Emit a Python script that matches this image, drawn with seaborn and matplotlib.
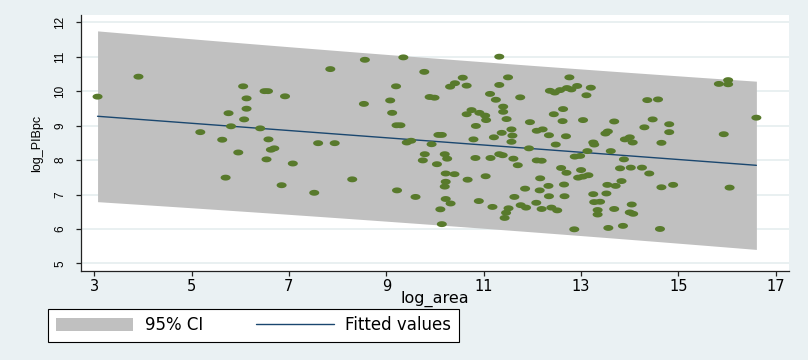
import numpy as np
import pandas as pd
import matplotlib
matplotlib.use("Agg")
import matplotlib.pyplot as plt
from matplotlib.path import Path
from matplotlib.markers import MarkerStyle
from matplotlib.patches import Patch
from matplotlib.lines import Line2D
import seaborn as sns

# Observations: log of area (x) and log of GDP per capita (y)
log_area = [
    3.07, 3.91, 5.18, 5.63, 5.70, 5.76, 5.81, 5.96, 6.06, 6.50,
    6.57, 6.13, 6.92, 6.13, 6.08, 6.41, 6.58, 6.63, 6.70, 6.54,
    7.08, 6.85, 7.52, 7.60, 7.94, 7.85, 8.56, 8.54, 8.30, 9.35,
    9.78, 9.20, 9.08, 9.12, 9.21, 9.29, 9.89, 9.99, 10.31, 10.41,
    10.57, 10.65, 10.65, 10.75, 10.07, 10.14, 9.42, 9.51, 9.93, 9.79,
    9.75, 10.20, 10.25, 10.04, 10.22, 10.40, 10.67, 10.22, 10.20, 9.22,
    9.60, 10.22, 10.32, 10.11, 10.14, 11.32, 11.50, 11.32, 11.13, 11.25,
    11.75, 10.91, 11.03, 11.05, 10.84, 11.40, 11.40, 11.47, 10.79, 11.21,
    11.37, 11.57, 11.59, 11.57, 11.95, 12.09, 12.21, 12.34, 12.48, 11.93,
    12.69, 10.83, 11.14, 11.32, 11.39, 11.61, 11.70, 12.09, 12.19, 12.59,
    12.70, 11.04, 12.16, 12.33, 12.15, 12.65, 11.85, 12.34, 12.66, 11.63,
    10.90, 12.08, 11.76, 11.87, 11.18, 11.51, 11.46, 11.43, 12.19, 12.39,
    12.51, 12.36, 12.46, 12.57, 12.71, 12.80, 12.92, 13.20, 13.11, 12.76,
    12.63, 12.44, 12.62, 13.04, 13.25, 13.13, 12.87, 12.98, 14.36, 14.58,
    13.68, 14.47, 14.30, 13.50, 13.55, 13.27, 13.90, 14.00, 14.06, 14.65,
    13.61, 13.88, 13.80, 14.02, 14.25, 14.40, 13.00, 12.94, 13.04, 13.15,
    13.54, 13.71, 13.83, 14.65, 13.25, 13.52, 13.27, 13.39, 13.34, 13.34,
    13.68, 14.04, 14.00, 14.07, 13.56, 13.86, 14.62, 12.86, 15.83, 16.02,
    16.02, 16.60, 14.81, 14.81, 15.93, 14.89, 16.05,
]
log_pibpc = [
    9.84, 10.42, 8.81, 8.59, 7.49, 9.36, 8.98, 8.22, 10.14, 10.00,
    10.00, 9.79, 9.85, 9.49, 9.18, 8.92, 8.60, 8.30, 8.34, 8.02,
    7.90, 7.27, 7.05, 8.49, 8.49, 10.64, 10.91, 9.63, 7.44, 10.98,
    10.56, 10.14, 9.73, 9.37, 9.01, 9.01, 9.83, 9.81, 10.13, 10.23,
    10.39, 10.16, 9.33, 9.45, 8.73, 8.73, 8.51, 8.56, 8.46, 8.17,
    7.99, 8.17, 8.04, 7.88, 7.61, 7.59, 7.43, 7.37, 7.23, 7.12,
    6.93, 6.87, 6.74, 6.57, 6.14, 11.00, 10.40, 10.18, 9.92, 9.75,
    9.82, 9.37, 9.29, 9.16, 8.99, 9.55, 9.40, 9.19, 8.60, 8.66,
    8.79, 8.89, 8.71, 8.53, 9.10, 8.85, 8.89, 8.72, 8.45, 8.34,
    8.69, 8.06, 8.06, 8.17, 8.14, 8.04, 7.85, 7.99, 7.98, 7.77,
    7.63, 7.53, 7.47, 7.25, 7.12, 7.29, 7.17, 6.95, 6.95, 6.93,
    6.81, 6.76, 6.69, 6.62, 6.64, 6.60, 6.47, 6.32, 6.58, 6.62,
    6.54, 10.01, 9.96, 10.03, 10.09, 10.05, 10.15, 10.10, 9.88, 10.40,
    9.48, 9.33, 9.13, 9.16, 8.51, 8.26, 8.10, 8.12, 9.74, 9.76,
    9.12, 9.18, 8.95, 8.77, 8.83, 8.45, 8.60, 8.66, 8.51, 8.50,
    8.26, 8.02, 7.76, 7.78, 7.78, 7.61, 7.71, 7.49, 7.52, 7.56,
    7.28, 7.25, 7.39, 7.21, 7.01, 7.03, 6.78, 6.79, 6.55, 6.42,
    6.58, 6.71, 6.48, 6.44, 6.03, 6.09, 6.00, 5.99, 10.21, 10.32,
    10.20, 9.23, 9.04, 8.81, 8.75, 7.28, 7.20,
]
x_ticks = [3, 5, 7, 9, 11, 13, 15, 17]
y_ticks = [5, 6, 7, 8, 9, 10, 11, 12]
legend_labels = ["95% CI", "Fitted values"]

sns.set_theme(style="white")
plt.rcParams["font.family"] = ["DejaVu Sans"]
plt.rcParams["text.color"] = "black"
plt.rcParams["axes.labelcolor"] = "black"
plt.rcParams["xtick.color"] = "black"
plt.rcParams["ytick.color"] = "black"

df = pd.DataFrame({"log_area": log_area, "log_PIBpc": log_pibpc})

# Linear fit with a 95% interval for individual forecasts
x = df["log_area"].to_numpy()
y = df["log_PIBpc"].to_numpy()
n = len(x)
slope, intercept = np.polyfit(x, y, 1)
resid = y - (intercept + slope * x)
s = np.sqrt(np.sum(resid ** 2) / (n - 2))
xbar = x.mean()
sxx = np.sum((x - xbar) ** 2)
z = 1.959963985
dof = n - 2
t_crit = z + (z ** 3 + z) / (4 * dof) + (5 * z ** 5 + 16 * z ** 3 + 3 * z) / (96 * dof ** 2)
grid = np.linspace(x.min(), x.max(), 100)
fit = intercept + slope * grid
half = t_crit * s * np.sqrt(1 + 1 / n + (grid - xbar) ** 2 / sxx)

BG = "#eaf1f3"
BAND = "#c0c0c0"
NAVY = "#1a476f"
GREEN = "#587a2c"

fig = plt.figure(figsize=(8.08, 3.6), dpi=100, facecolor=BG)
ax = fig.add_axes([81 / 808, 1 - 271 / 360, 708 / 808, 256 / 360])
ax.set_facecolor("white")

ax.fill_between(grid, fit - half, fit + half, color=BAND, linewidth=0, zorder=1)
sns.lineplot(x=grid, y=fit, ax=ax, color=NAVY, linewidth=1.0, zorder=2)

theta = np.linspace(0, 2 * np.pi, 64)
ellipse = Path(np.column_stack([1.7 * np.cos(theta), np.sin(theta)]), closed=True)
sns.scatterplot(data=df, x="log_area", y="log_PIBpc", ax=ax,
                marker=MarkerStyle(ellipse), s=52, color=GREEN,
                edgecolor="none", linewidth=0, zorder=3, legend=False)

ax.set_xlim(2.73, 17.27)
ax.set_ylim(4.78, 12.21)
ax.set_xticks(x_ticks)
ax.set_yticks(y_ticks)
ax.grid(axis="y", color="#e3ecee", linewidth=1.1)
ax.grid(axis="x", visible=False)
ax.set_axisbelow(True)

for side in ("top", "right"):
    ax.spines[side].set_visible(False)
for side in ("left", "bottom"):
    ax.spines[side].set_color("#222222")
    ax.spines[side].set_linewidth(0.9)

ax.tick_params(axis="both", direction="out", length=3.5, width=0.9,
               color="#222222", bottom=True, left=True)
ax.tick_params(axis="x", labelsize=10.5, pad=2.5)
ax.tick_params(axis="y", labelrotation=90, labelsize=8.5, pad=7)
for lbl in ax.get_yticklabels():
    lbl.set_fontfamily(["Liberation Sans", "DejaVu Sans"])
    lbl.set_verticalalignment("center")

ax.set_xlabel("log_area", fontsize=11.5)
ax.xaxis.set_label_coords(0.5, -0.078)
ax.set_ylabel("log_PIBpc", fontsize=9, fontfamily=["Liberation Sans", "DejaVu Sans"])
ax.yaxis.set_label_coords(-0.053, 0.5)

handles = [Patch(facecolor=BAND, edgecolor="none"),
           Line2D([], [], color=NAVY, linewidth=1.0)]
leg = fig.legend(handles, legend_labels, loc="lower left",
                 bbox_to_anchor=(48 / 808, 1 - 342 / 360, 411 / 808, 34 / 360),
                 mode="expand", ncol=2, frameon=True, fancybox=False,
                 edgecolor="black", facecolor="white", framealpha=1,
                 fontsize=12, handlelength=4.67, handleheight=0.78,
                 handletextpad=0.7, borderpad=0.45, borderaxespad=0,
                 columnspacing=2.0)
leg.get_frame().set_linewidth(0.8)

fig.savefig("out.png", dpi=100, facecolor=BG)
